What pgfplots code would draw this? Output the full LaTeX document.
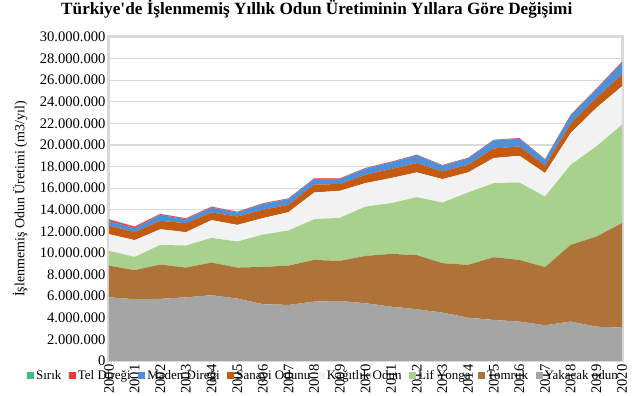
\documentclass[border=0pt]{standalone}
\usepackage{pgfplots}
\usepackage{pgfplotstable}
\pgfplotsset{compat=1.18}
\usepackage{fontspec}
\setmainfont{Liberation Serif}[Ligatures=TeXOff]
\definecolor{cyak}{HTML}{A5A5A5}
\definecolor{ctom}{HTML}{AE7339}
\definecolor{clif}{HTML}{A9D18E}
\definecolor{ckag}{HTML}{F2F2F2}
\definecolor{csan}{HTML}{C55A11}
\definecolor{cmad}{HTML}{4E8FDC}
\definecolor{ctel}{HTML}{FF3333}
\definecolor{csir}{HTML}{40BE80}
\definecolor{cgrid}{HTML}{D9D9D9}
\pgfplotstableread{
year yak tom lif kag san mad tel sir
2000 5900000 2930000 1370000 1540000 800000 410000 150000 30000
2001 5720000 2690000 1230000 1550000 740000 370000 130000 30000
2002 5750000 3180000 1820000 1450000 780000 550000 80000 20000
2003 5900000 2750000 2040000 1240000 830000 370000 70000 20000
2004 6090000 3020000 2290000 1640000 710000 460000 70000 20000
2005 5780000 2870000 2410000 1540000 780000 370000 60000 20000
2006 5260000 3450000 3000000 1520000 770000 530000 60000 20000
2007 5190000 3640000 3250000 1700000 680000 530000 60000 20000
2008 5500000 3860000 3770000 2470000 740000 500000 60000 20000
2009 5560000 3710000 3990000 2500000 620000 460000 60000 20000
2010 5350000 4380000 4570000 2170000 770000 560000 60000 20000
2011 5030000 4890000 4700000 2320000 830000 610000 60000 20000
2012 4790000 5010000 5370000 2290000 870000 700000 60000 20000
2013 4480000 4580000 5610000 2170000 710000 530000 50000 20000
2014 4010000 4890000 6700000 1860000 710000 580000 50000 20000
2015 3800000 5810000 6860000 2320000 890000 740000 50000 20000
2016 3650000 5710000 7170000 2470000 870000 710000 50000 20000
2017 3310000 5380000 6540000 2170000 680000 550000 50000 20000
2018 3650000 7100000 7420000 2930000 870000 740000 80000 20000
2019 3180000 8340000 8350000 3560000 920000 770000 80000 20000
2020 3090000 9670000 9120000 3550000 1080000 1090000 100000 20000
}\datatable
\begin{document}
\begin{tikzpicture}
\begin{axis}[
  at={(109pt,35pt)},
  scale only axis,
  width=513pt, height=324pt,
  xmin=2000, xmax=2020,
  ymin=0, ymax=30000000,
  xtick={2000,2001,...,2020},
  ytick={0,2000000,...,30000000},
  stack plots=y,
  scaled y ticks=false,
  /pgf/number format/assume math mode=true,
  yticklabel style={/pgf/number format/.cd, fixed, 1000 sep={.}},
  xticklabel style={rotate=90, anchor=east, /pgf/number format/1000 sep={}},
  tick label style={font=\fontsize{14.6}{16}\selectfont},
  major tick length=0pt,
  ymajorgrids,
  major grid style={color=cgrid, line width=1.2pt},
  axis line style={color=cgrid, line width=3pt},
  title={Türkiye'de İşlenmemiş Yıllık Odun Üretiminin Yıllara Göre Değişimi},
  title style={font=\fontsize{17.2}{20}\selectfont\bfseries, at={(axis description cs:0.405,1.052)}, anchor=base},
  ylabel={İşlenmemiş Odun Üretimi (m3/yıl)},
  ylabel style={font=\fontsize{14}{16}\selectfont, at={(axis description cs:-0.1735,0.5)}, anchor=center},
  legend columns=-1,
  legend style={draw=none, fill=none, at={(axis description cs:-0.16,-0.045)}, anchor=west,
    font=\fontsize{13}{15}\selectfont, inner sep=0pt,
    /tikz/every even column/.append style={column sep=5.5pt}},
  legend image code/.code={\path[#1] (0pt,-3.5pt) rectangle (7pt,3.5pt);},
]
\addlegendimage{fill=csir, draw=none}\addlegendentry{Sırık}
\addlegendimage{fill=ctel, draw=none}\addlegendentry{Tel Direği}
\addlegendimage{fill=cmad, draw=none}\addlegendentry{Maden Direği}
\addlegendimage{fill=csan, draw=none}\addlegendentry{Sanayi Odunu}
\addlegendimage{fill=ckag, draw=none}\addlegendentry{Kağıtlık Odun}
\addlegendimage{fill=clif, draw=none}\addlegendentry{Lif Yonga}
\addlegendimage{fill=ctom, draw=none}\addlegendentry{Tomruk}
\addlegendimage{fill=cyak, draw=none}\addlegendentry{Yakacak odun}
\addplot[fill=cyak, draw=none] table[x=year, y=yak] {\datatable} \closedcycle;
\addplot[fill=ctom, draw=none] table[x=year, y=tom] {\datatable} \closedcycle;
\addplot[fill=clif, draw=none] table[x=year, y=lif] {\datatable} \closedcycle;
\addplot[fill=ckag, draw=none] table[x=year, y=kag] {\datatable} \closedcycle;
\addplot[fill=csan, draw=none] table[x=year, y=san] {\datatable} \closedcycle;
\addplot[fill=cmad, draw=none] table[x=year, y=mad] {\datatable} \closedcycle;
\addplot[fill=ctel, draw=none] table[x=year, y=tel] {\datatable} \closedcycle;
\addplot[fill=csir, draw=none] table[x=year, y=sir] {\datatable} \closedcycle;
\end{axis}
\pgfresetboundingbox
\useasboundingbox (0pt,0pt) rectangle (633pt,396pt);
\end{tikzpicture}
\end{document}
